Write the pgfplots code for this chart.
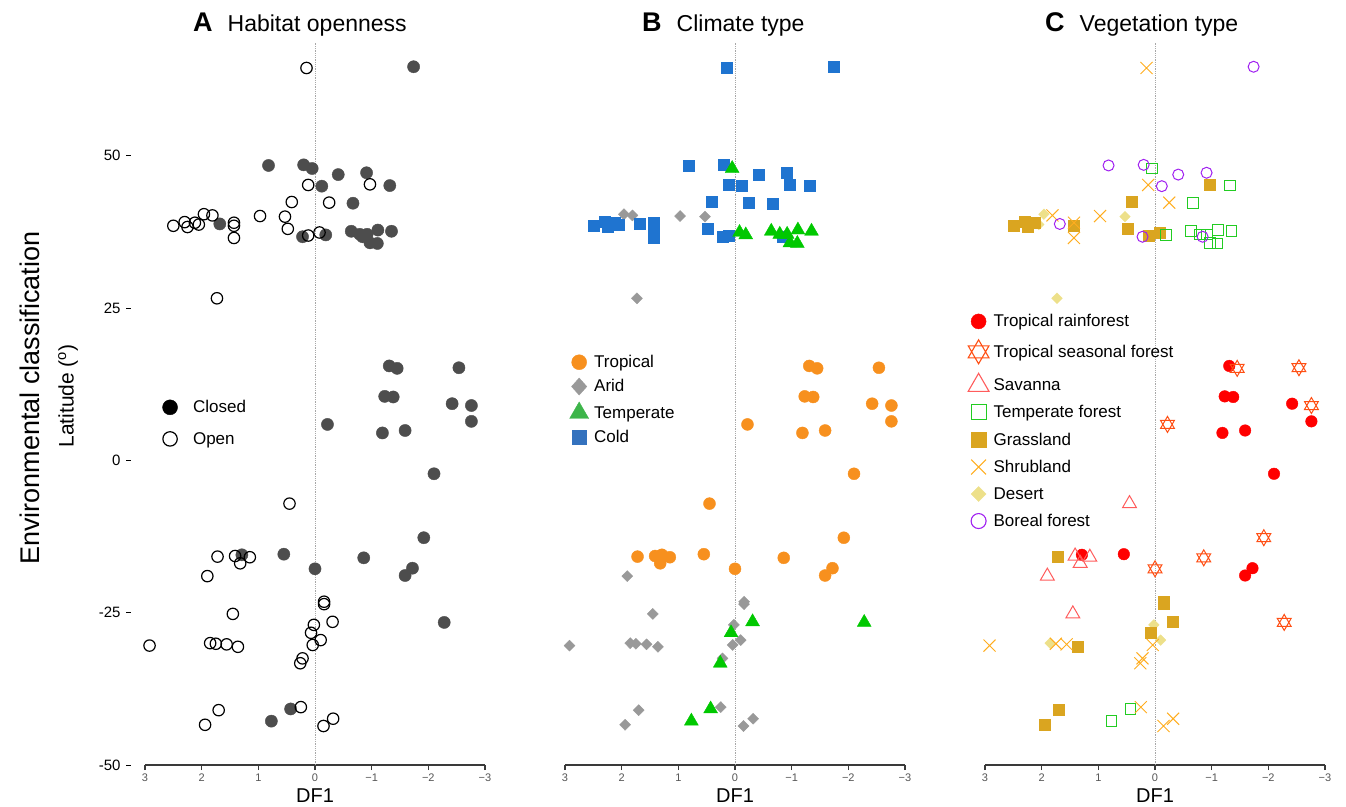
\documentclass[border=0pt]{standalone}
\usepackage{pgfplots}
\pgfplotsset{compat=1.18}
\usepackage{fontspec}
\setmainfont{Liberation Sans}

\definecolor{axisgray}{HTML}{3A3A3A}
\definecolor{ticktext}{HTML}{555555}
\definecolor{zeroline}{HTML}{A8A8A8}
\definecolor{closedfill}{HTML}{4D4D4D}
\definecolor{tropical}{HTML}{F7901E}
\definecolor{arid}{HTML}{999999}
\definecolor{temperate}{HTML}{00C800}
\definecolor{temperateleg}{HTML}{3DB54A}
\definecolor{cold}{HTML}{1F74D0}
\definecolor{coldleg}{HTML}{3472BE}
\definecolor{rainforest}{HTML}{FF0000}
\definecolor{seasonal}{HTML}{FF4F14}
\definecolor{savanna}{HTML}{FF5C5C}
\definecolor{tempforest}{HTML}{22CC22}
\definecolor{grassland}{HTML}{DAA520}
\definecolor{shrubland}{HTML}{FFAD1F}
\definecolor{desert}{HTML}{EDE08A}
\definecolor{boreal}{HTML}{A020F0}

% star of David (two overlapping triangles), outline only
\pgfdeclareplotmark{hexagram}{%
  \pgfpathmoveto{\pgfpointpolar{90}{\pgfplotmarksize}}%
  \pgfpathlineto{\pgfpointpolar{210}{\pgfplotmarksize}}%
  \pgfpathlineto{\pgfpointpolar{330}{\pgfplotmarksize}}%
  \pgfpathclose
  \pgfpathmoveto{\pgfpointpolar{270}{\pgfplotmarksize}}%
  \pgfpathlineto{\pgfpointpolar{30}{\pgfplotmarksize}}%
  \pgfpathlineto{\pgfpointpolar{150}{\pgfplotmarksize}}%
  \pgfpathclose
  \pgfusepathqstroke}

\newcommand\ytickdash{\hspace{6pt}\rule[0.3em]{5pt}{1pt}}

\pgfplotsset{
  panel/.style={
    scale only axis, width=340pt, height=722pt,
    xmin=-3, xmax=3, ymin=-50, ymax=68.5, x dir=reverse,
    clip=false,
    axis x line*=bottom, axis y line*=left,
    x axis line style={line width=2.6pt, color=axisgray, -},
    y axis line style={draw=none},
    xtick={-3,-2,-1,0,1,2,3},
    xticklabels={−3,−2,−1,0,1,2,3},
    xtick style={line width=1.4pt, color=axisgray},
    ytick style={draw=none},
    tick align=outside, major tick length=5pt,
    xticklabel style={font=\fontsize{11}{12}\selectfont, text=ticktext},
    xlabel={DF1},
    xlabel style={font=\fontsize{20}{22}\selectfont, at={(axis description cs:0.5,0)}, anchor=center, yshift=-31pt},
    legend cell align=left,
    legend style={draw=none, fill=none, inner sep=0pt, font=\fontsize{17}{20}\selectfont},
  },
}

\begin{document}
\begin{tikzpicture}
\path[use as bounding box] (0pt,0pt) rectangle (1346pt,806pt);

% axis titles shared by the three panels
\node[rotate=90, inner sep=0pt, font=\fontsize{27}{30}\selectfont] at (30pt,408pt) {Environmental classification};
\node[rotate=90, inner sep=0pt, font=\fontsize{21}{24}\selectfont] at (68pt,410pt) {Latitude (\textsuperscript{o})};

% panel headings
\node[anchor=base west, inner sep=0pt] at (193pt,774pt) {{\fontsize{27}{30}\selectfont\bfseries A}\hspace{15pt}{\fontsize{23}{26}\selectfont Habitat openness}};
\node[anchor=base west, inner sep=0pt] at (642pt,774pt) {{\fontsize{27}{30}\selectfont\bfseries B}\hspace{15pt}{\fontsize{23}{26}\selectfont Climate type}};
\node[anchor=base west, inner sep=0pt] at (1045pt,774pt) {{\fontsize{27}{30}\selectfont\bfseries C}\hspace{15pt}{\fontsize{23}{26}\selectfont Vegetation type}};

% ---------------- A: habitat openness ----------------
\begin{axis}[panel, at={(145pt,41pt)}, anchor=south west,
  ytick={-50,-25,0,25,50},
  yticklabels={{-50\ytickdash},{-25\ytickdash},{0\ytickdash},{25\ytickdash},{50\ytickdash}},
  yticklabel style={font=\fontsize{15}{18}\selectfont, xshift=-5pt},
  legend image code/.code={\draw[#1] plot coordinates {(0pt,0pt)}; \path[draw=none] (-9pt,0pt) -- (21pt,0pt);},
  legend style={at={(axis cs:2.72,10.2)}, anchor=north west, row sep=14pt},
]
\addlegendimage{only marks, mark=*, mark size=7.5pt, black}
\addlegendentry{Closed}
\addlegendimage{only marks, mark=o, mark size=7.2pt, black, line width=1.2pt}
\addlegendentry{Open}
\addplot[forget plot, zeroline, densely dotted, line width=0.8pt] coordinates {(0,-50) (0,68.5)};
% closed habitats
\addplot[forget plot, only marks, mark=*, mark size=6.1pt, closedfill] coordinates {
 (-1.74,64.6)(0.82,48.4)(0.20,48.5)(0.05,47.9)(-0.41,46.9)(-0.91,47.2)(-0.12,45.0)
 (-1.32,45.1)(-0.67,42.2)(1.68,38.8)(0.22,36.7)(-0.19,37.0)(-0.64,37.6)(-0.79,37.1)
 (-0.92,37.1)(-1.11,37.8)(-1.35,37.6)(-0.97,35.7)(-1.10,35.6)(-0.84,36.7)
 (-1.31,15.5)(-1.45,15.1)(-2.54,15.2)(-1.23,10.5)(-1.38,10.4)(-2.42,9.3)(-2.76,9.0)
 (-2.76,6.4)(-0.22,5.9)(-1.19,4.5)(-1.59,4.9)(-2.10,-2.2)
 (1.29,-15.5)(0.55,-15.4)(-0.86,-16.0)(-1.92,-12.7)(0.00,-17.8)(-1.72,-17.7)
 (-1.59,-18.9)(-2.28,-26.6)(0.43,-40.8)(0.77,-42.8)};
% open habitats
\addplot[forget plot, only marks, mark=o, mark size=5.7pt, black, line width=1.2pt] coordinates {
 (0.15,64.4)(0.12,45.2)(-0.97,45.3)(0.41,42.4)(-0.25,42.3)(0.97,40.1)(0.53,40.0)
 (0.48,38.0)(0.12,36.9)(-0.08,37.4)(2.50,38.5)(2.30,39.1)(2.25,38.3)(2.12,39.0)
 (2.05,38.7)(1.96,40.4)(1.81,40.2)(1.43,39.0)(1.43,38.5)(1.43,36.5)
 (1.73,26.6)
 (0.45,-7.1)(1.72,-15.8)(1.41,-15.7)(1.15,-15.9)(1.32,-16.9)(1.90,-19.0)(-0.16,-23.2)
 (-0.16,-23.6)(1.45,-25.2)(-0.31,-26.5)(0.02,-27.0)(0.07,-28.3)(2.92,-30.4)(1.85,-30.0)
 (1.75,-30.1)(1.56,-30.2)(1.36,-30.6)(-0.10,-29.5)(0.04,-30.3)(0.22,-32.5)(0.26,-33.3)
 (1.70,-41.0)(1.94,-43.4)(0.25,-40.5)(-0.32,-42.4)(-0.15,-43.6)};
\end{axis}

% ---------------- B: climate type ----------------
\begin{axis}[panel, at={(565pt,41pt)}, anchor=south west, ytick=\empty,
  legend image code/.code={\draw[#1] plot coordinates {(0pt,0pt)}; \path[draw=none] (-10pt,0pt) -- (13pt,0pt);},
  legend style={at={(axis cs:2.93,17.6)}, anchor=north west, row sep=6.5pt},
]
\addlegendimage{only marks, mark=*, mark size=7.5pt, tropical}
\addlegendentry{Tropical}
\addlegendimage{only marks, mark=diamond*, mark size=8.5pt, arid, mark options={xscale=1.2}}
\addlegendentry{Arid}
\addlegendimage{only marks, mark=triangle*, mark size=11pt, temperateleg}
\addlegendentry{Temperate}
\addlegendimage{only marks, mark=square*, mark size=7pt, coldleg}
\addlegendentry{Cold}
\addplot[forget plot, zeroline, densely dotted, line width=0.8pt] coordinates {(0,-50) (0,68.5)};
% tropical
\addplot[forget plot, only marks, mark=*, mark size=6pt, tropical] coordinates {
 (-1.31,15.5)(-1.45,15.1)(-2.54,15.2)(-1.23,10.5)(-1.38,10.4)(-2.42,9.3)(-2.76,9.0)
 (-2.76,6.4)(-0.22,5.9)(-1.19,4.5)(-1.59,4.9)(-2.10,-2.2)
 (0.45,-7.1)(1.72,-15.8)(1.41,-15.7)(1.29,-15.5)(1.15,-15.9)(1.32,-16.9)(0.55,-15.4)
 (-0.86,-16.0)(-1.92,-12.7)(0.00,-17.8)(-1.72,-17.7)(-1.59,-18.9)};
% arid
\addplot[forget plot, only marks, mark=diamond*, mark size=5.5pt, arid, mark options={xscale=1.33}] coordinates {
 (0.97,40.1)(0.53,40.0)(1.96,40.4)(1.81,40.2)(1.73,26.6)
 (1.90,-19.0)(-0.16,-23.2)(-0.16,-23.6)(1.45,-25.2)(0.02,-27.0)(2.92,-30.4)(1.85,-30.0)
 (1.75,-30.1)(1.56,-30.2)(1.36,-30.6)(-0.10,-29.5)(0.04,-30.3)(0.22,-32.5)(1.70,-41.0)
 (1.94,-43.4)(0.25,-40.5)(-0.32,-42.4)(-0.15,-43.6)};
% cold
\addplot[forget plot, only marks, mark=square*, mark size=5.5pt, cold] coordinates {
 (0.15,64.4)(-1.74,64.6)(0.82,48.4)(0.20,48.5)(-0.41,46.9)(-0.91,47.2)(-0.12,45.0)
 (-1.32,45.1)(-0.67,42.2)(1.68,38.8)(0.22,36.7)(-0.84,36.7)(0.12,45.2)(-0.97,45.3)
 (0.41,42.4)(-0.25,42.3)(0.48,38.0)(0.12,36.9)(2.50,38.5)(2.30,39.1)(2.25,38.3)
 (2.12,39.0)(2.05,38.7)(1.43,39.0)(1.43,38.5)(1.43,36.5)};
% temperate
\addplot[forget plot, only marks, mark=triangle*, mark size=8pt, temperate] coordinates {
 (0.05,47.9)(-0.08,37.4)(-0.19,37.0)(-0.64,37.6)(-0.79,37.1)(-0.92,37.1)(-1.11,37.8)
 (-1.35,37.6)(-0.97,35.7)(-1.10,35.6)(-0.31,-26.5)(-2.28,-26.6)(0.07,-28.3)(0.26,-33.3)
 (0.43,-40.8)(0.77,-42.8)};
\end{axis}

% ---------------- C: vegetation type ----------------
\begin{axis}[panel, at={(985pt,41pt)}, anchor=south west, ytick=\empty,
  legend image code/.code={\draw[#1] plot coordinates {(0pt,0pt)}; \path[draw=none] (-10pt,0pt) -- (13pt,0pt);},
  legend style={at={(axis cs:3.30,24.3)}, anchor=north west, row sep=9.5pt},
]
\addlegendimage{only marks, mark=*, mark size=7.5pt, rainforest}
\addlegendentry{Tropical rainforest}
\addlegendimage{only marks, mark=hexagram, mark size=12pt, seasonal, line width=1.1pt}
\addlegendentry{Tropical seasonal forest}
\addlegendimage{only marks, mark=triangle, mark size=12pt, savanna, line width=1.1pt}
\addlegendentry{Savanna}
\addlegendimage{only marks, mark=square, mark size=7.5pt, tempforest, line width=1.1pt}
\addlegendentry{Temperate forest}
\addlegendimage{only marks, mark=square*, mark size=7.5pt, grassland}
\addlegendentry{Grassland}
\addlegendimage{only marks, mark=x, mark size=10.5pt, shrubland, line width=1.1pt}
\addlegendentry{Shrubland}
\addlegendimage{only marks, mark=diamond*, mark size=7.5pt, desert, mark options={xscale=1.33}}
\addlegendentry{Desert}
\addlegendimage{only marks, mark=o, mark size=7.5pt, boreal, line width=1.1pt}
\addlegendentry{Boreal forest}
\addplot[forget plot, zeroline, densely dotted, line width=0.8pt] coordinates {(0,-50) (0,68.5)};
% tropical rainforest
\addplot[forget plot, only marks, mark=*, mark size=5.8pt, rainforest] coordinates {
 (-1.31,15.5)(-1.23,10.5)(-1.38,10.4)(-2.42,9.3)(-2.76,6.4)(-1.19,4.5)(-1.59,4.9)
 (-2.10,-2.2)(1.29,-15.5)(0.55,-15.4)(-1.72,-17.7)(-1.59,-18.9)};
% tropical seasonal forest
\addplot[forget plot, only marks, mark=hexagram, mark size=8pt, seasonal, line width=1pt] coordinates {
 (-1.45,15.1)(-2.54,15.2)(-2.76,9.0)(-0.22,5.9)(-1.92,-12.7)(-0.86,-16.0)(0.00,-17.8)
 (-2.28,-26.6)};
% savanna
\addplot[forget plot, only marks, mark=triangle, mark size=8pt, savanna, line width=1pt] coordinates {
 (0.45,-7.1)(1.41,-15.7)(1.15,-15.9)(1.32,-16.9)(1.90,-19.0)(1.45,-25.2)};
% desert
\addplot[forget plot, only marks, mark=diamond*, mark size=5.3pt, desert, mark options={xscale=1.33}] coordinates {
 (1.96,40.4)(2.05,38.7)(0.53,40.0)(1.73,26.6)(0.02,-27.0)(1.85,-30.0)(-0.10,-29.5)};
% grassland
\addplot[forget plot, only marks, mark=square*, mark size=5.5pt, grassland] coordinates {
 (-0.97,45.3)(0.41,42.4)(0.48,38.0)(0.12,36.9)(-0.08,37.4)(2.50,38.5)(2.30,39.1)
 (2.25,38.3)(2.12,39.0)(1.43,38.5)(1.72,-15.8)(-0.16,-23.2)(-0.16,-23.6)(-0.31,-26.5)
 (0.07,-28.3)(1.36,-30.6)(1.70,-41.0)(1.94,-43.4)};
% temperate forest
\addplot[forget plot, only marks, mark=square, mark size=5.3pt, tempforest, line width=1pt] coordinates {
 (0.05,47.9)(-1.32,45.1)(-0.67,42.2)(-0.19,37.0)(-0.64,37.6)(-0.79,37.1)(-0.92,37.1)
 (-1.11,37.8)(-1.35,37.6)(-0.97,35.7)(-1.10,35.6)(0.43,-40.8)(0.77,-42.8)};
% shrubland
\addplot[forget plot, only marks, mark=x, mark size=8.5pt, shrubland, line width=1pt] coordinates {
 (0.15,64.4)(0.12,45.2)(-0.25,42.3)(1.81,40.2)(0.97,40.1)(1.43,39.0)(1.43,36.5)
 (2.92,-30.4)(1.75,-30.1)(1.56,-30.2)(0.04,-30.3)(0.22,-32.5)(0.26,-33.3)(0.25,-40.5)
 (-0.32,-42.4)(-0.15,-43.6)};
% boreal forest
\addplot[forget plot, only marks, mark=o, mark size=5.5pt, boreal, line width=1pt] coordinates {
 (-1.74,64.6)(0.82,48.4)(0.20,48.5)(-0.41,46.9)(-0.91,47.2)(-0.12,45.0)(1.68,38.8)
 (0.22,36.7)(-0.84,36.7)};
\end{axis}
\end{tikzpicture}
\end{document}
